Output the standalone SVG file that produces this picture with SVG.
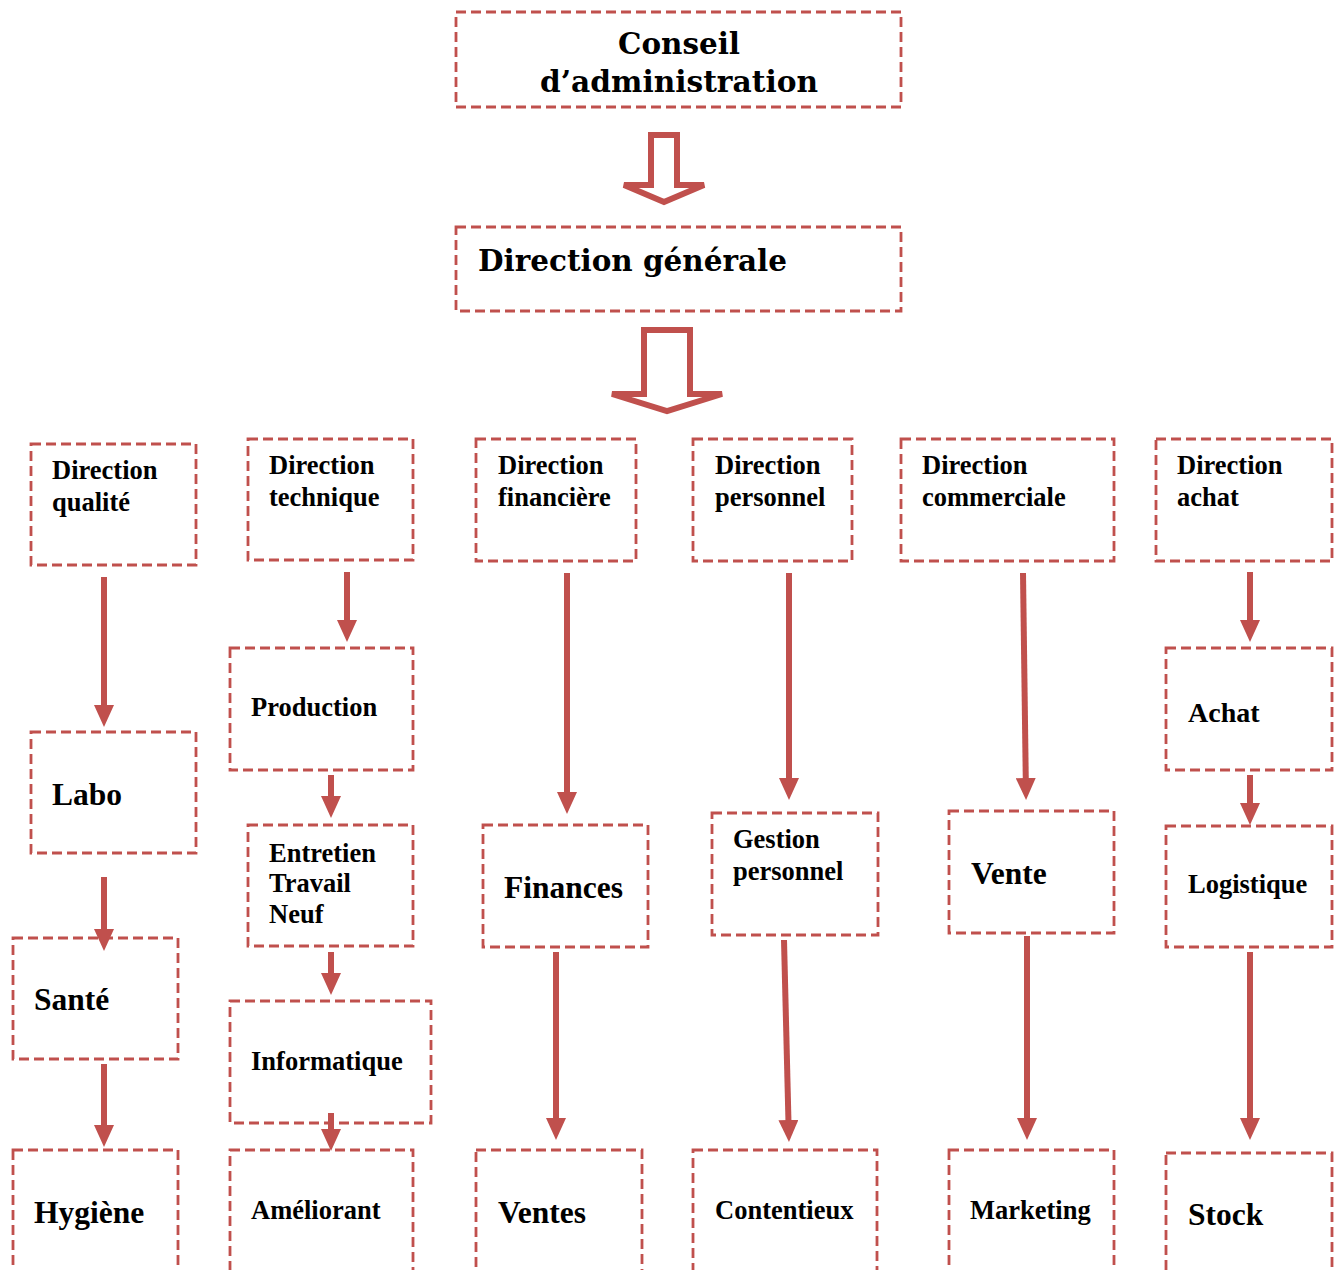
<svg xmlns="http://www.w3.org/2000/svg" width="1335" height="1270" viewBox="0 0 1335 1270">
<defs>
<style>
.box{fill:#fff;stroke:#C0504D;stroke-width:2.8;stroke-dasharray:10 5}
.t{font-family:"Liberation Serif","Times New Roman",serif;font-weight:bold;font-size:26.5px;fill:#000}
.L{font-size:31.5px}
.M{font-size:28px}
.h{font-family:"DejaVu Serif","Liberation Serif",serif;font-weight:bold;font-size:30px;fill:#000}
.c{stroke:#C0504D;stroke-width:6;fill:none;marker-end:url(#ah)}
.big{fill:#fff;stroke:#C0504D;stroke-width:6;stroke-linejoin:miter}
</style>
<marker id="ah" viewBox="0 0 22 20" markerWidth="22" markerHeight="20" refX="11" refY="10" orient="auto" markerUnits="userSpaceOnUse">
<path d="M0,0 L22,10 L0,20 z" fill="#C0504D"/>
</marker>
</defs>
<rect width="1335" height="1270" fill="#fff"/>

<g id="n-conseil"><rect class="box" x="456" y="12" width="445" height="95"/>
<text class="h" x="679" y="54" text-anchor="middle" textLength="122" lengthAdjust="spacingAndGlyphs">Conseil</text>
<text class="h" x="679" y="92" text-anchor="middle" textLength="278" lengthAdjust="spacingAndGlyphs">d’administration</text></g>

<g id="n-dg"><rect class="box" x="456" y="227" width="445" height="84"/>
<text class="h" x="478" y="271" textLength="309" lengthAdjust="spacingAndGlyphs">Direction générale</text></g>

<g id="n-dq"><rect class="box" x="31" y="444" width="165" height="121"/>
<text class="t" x="52" y="479">Direction</text><text class="t" x="52" y="511">qualité</text></g>
<g id="n-dt"><rect class="box" x="248" y="439" width="165" height="121"/>
<text class="t" x="269" y="474">Direction</text><text class="t" x="269" y="506">technique</text></g>
<g id="n-df"><rect class="box" x="476" y="439" width="160" height="122"/>
<text class="t" x="498" y="474">Direction</text><text class="t" x="498" y="506">financière</text></g>
<g id="n-dp"><rect class="box" x="693" y="439" width="159" height="122"/>
<text class="t" x="715" y="474">Direction</text><text class="t" x="715" y="506">personnel</text></g>
<g id="n-dc"><rect class="box" x="901" y="439" width="213" height="122"/>
<text class="t" x="922" y="474">Direction</text><text class="t" x="922" y="506">commerciale</text></g>
<g id="n-da"><rect class="box" x="1156" y="439" width="176" height="122"/>
<text class="t" x="1177" y="474">Direction</text><text class="t" x="1177" y="506">achat</text></g>

<g id="n-labo"><rect class="box" x="31" y="732" width="165" height="121"/><text class="t L" x="52" y="805">Labo</text></g>
<g id="n-sante"><rect class="box" x="13" y="938" width="165" height="121"/><text class="t L" x="34" y="1010">Santé</text></g>
<g id="n-hygiene"><rect class="box" x="13" y="1150" width="165" height="140"/><text class="t L" x="34" y="1223">Hygiène</text></g>

<g id="n-production"><rect class="box" x="230" y="648" width="183" height="122"/><text class="t" x="251" y="716">Production</text></g>
<g id="n-entretien"><rect class="box" x="248" y="825" width="165" height="121"/>
<text class="t" x="269" y="862">Entretien</text><text class="t" x="269" y="892">Travail</text><text class="t" x="269" y="923">Neuf</text></g>
<g id="n-informatique"><rect class="box" x="230" y="1001" width="201" height="122"/><text class="t" x="251" y="1070">Informatique</text></g>
<g id="n-ameliorant"><rect class="box" x="230" y="1150" width="183" height="140"/><text class="t" x="251" y="1219">Améliorant</text></g>

<g id="n-finances"><rect class="box" x="483" y="825" width="165" height="122"/><text class="t L" x="504" y="898">Finances</text></g>
<g id="n-ventes"><rect class="box" x="476" y="1150" width="166" height="140"/><text class="t L" x="498" y="1223">Ventes</text></g>

<g id="n-gestion"><rect class="box" x="712" y="813" width="166" height="122"/>
<text class="t" x="733" y="848">Gestion</text><text class="t" x="733" y="880">personnel</text></g>
<g id="n-contentieux"><rect class="box" x="693" y="1150" width="184" height="140"/><text class="t" x="715" y="1219">Contentieux</text></g>

<g id="n-vente"><rect class="box" x="949" y="811" width="165" height="122"/><text class="t L" x="971" y="884">Vente</text></g>
<g id="n-marketing"><rect class="box" x="949" y="1150" width="165" height="140"/><text class="t" x="970" y="1219">Marketing</text></g>

<g id="n-achat"><rect class="box" x="1166" y="648" width="166" height="122"/><text class="t M" x="1188" y="722">Achat</text></g>
<g id="n-logistique"><rect class="box" x="1166" y="826" width="166" height="121"/><text class="t" x="1188" y="893">Logistique</text></g>
<g id="n-stock"><rect class="box" x="1166" y="1153" width="166" height="140"/><text class="t L" x="1188" y="1225">Stock</text></g>

<g id="connectors">
<polygon class="big" points="651,135 677,135 677,185 704,185 664,202 624,185 651,185"/>
<polygon class="big" points="644,330 690,330 690,394 722,394 667,411 612,394 644,394"/>
<line class="c" x1="104" y1="577" x2="104" y2="716"/>
<line class="c" x1="104" y1="877" x2="104" y2="940"/>
<line class="c" x1="104" y1="1064" x2="104" y2="1136"/>
<line class="c" x1="347" y1="572" x2="347" y2="631"/>
<line class="c" x1="331" y1="775" x2="331" y2="807"/>
<line class="c" x1="331" y1="952" x2="331" y2="984"/>
<line class="c" x1="331" y1="1113" x2="331" y2="1140"/>
<line class="c" x1="567" y1="573" x2="567" y2="803"/>
<line class="c" x1="556" y1="952" x2="556" y2="1129"/>
<line class="c" x1="789" y1="573" x2="789" y2="789"/>
<line class="c" x1="784" y1="940" x2="788.7" y2="1131"/>
<line class="c" x1="1023" y1="573" x2="1025.9" y2="789"/>
<line class="c" x1="1027" y1="936" x2="1027" y2="1129"/>
<line class="c" x1="1250" y1="572" x2="1250" y2="631"/>
<line class="c" x1="1250" y1="775" x2="1250" y2="814"/>
<line class="c" x1="1250" y1="952" x2="1250" y2="1129"/>
</g>
</svg>
